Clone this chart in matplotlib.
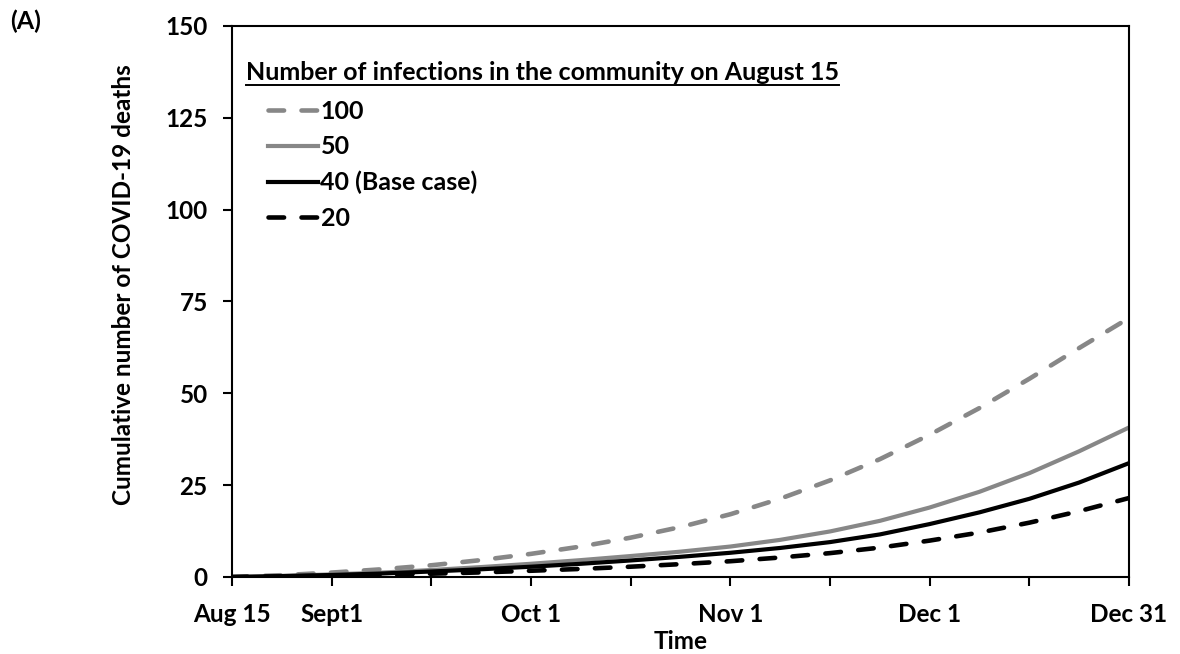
import numpy as np
import matplotlib
matplotlib.use("Agg")
import matplotlib.pyplot as plt
from matplotlib.lines import Line2D

plt.rcParams['font.family'] = ['Lato', 'DejaVu Sans']
plt.rcParams['font.weight'] = 'bold'

# Days since August 15 (tick and half-tick positions)
days = [0, 7.7, 15.3, 23.0, 30.7, 38.3, 46.0, 53.7, 61.3, 69.0, 76.7, 84.3, 92.0, 99.7, 107.3, 115.0, 122.7, 130.3, 138.0]

deaths_100 = [0, 0.5, 1.2, 2.1, 3.2, 4.6, 6.3, 8.3, 10.7, 13.6, 17.1, 21.3, 26.3, 32.1, 38.7, 46.0, 54.0, 62.3, 70.5]
deaths_50 = [0, 0.3, 0.7, 1.2, 1.9, 2.7, 3.6, 4.6, 5.7, 6.9, 8.3, 10.1, 12.4, 15.3, 18.9, 23.2, 28.3, 34.2, 40.7]
deaths_40 = [0, 0.25, 0.55, 0.95, 1.5, 2.1, 2.8, 3.6, 4.5, 5.5, 6.6, 7.9, 9.5, 11.6, 14.4, 17.6, 21.3, 25.7, 31.0]
deaths_20 = [0, 0.15, 0.35, 0.6, 0.9, 1.25, 1.7, 2.2, 2.8, 3.5, 4.3, 5.3, 6.5, 8.0, 9.9, 12.1, 14.8, 17.9, 21.5]

series_labels = ['100', '50', '40 (Base case)', '20']
x_tick_labels = ['Aug 15', 'Sept1', '', 'Oct 1', '', 'Nov 1', '', 'Dec 1', '', 'Dec 31']
y_ticks = [0, 25, 50, 75, 100, 125, 150]

W, H = 1180, 654
fig = plt.figure(figsize=(W / 100, H / 100), dpi=100)
ax = fig.add_axes([232 / W, 1 - 577 / H, (1129 - 232) / W, (577 - 26) / H])

grey = '#878787'
dash = (3.4, 3.8)
ax.plot(days, deaths_100, color=grey, lw=3.3, linestyle=(0, dash), dash_capstyle='round', label=series_labels[0])
ax.plot(days, deaths_50, color=grey, lw=3, label=series_labels[1])
ax.plot(days, deaths_40, color='black', lw=3, label=series_labels[2])
ax.plot(days, deaths_20, color='black', lw=3.3, linestyle=(0, dash), dash_capstyle='round', label=series_labels[3])

ax.set_xlim(0, 138)
ax.set_ylim(0, 150)
ax.set_xticks(np.linspace(0, 138, 10))
ax.set_xticklabels(x_tick_labels)
ax.set_yticks(y_ticks)
ax.tick_params(axis='both', direction='out', length=6.5, width=1.5, labelsize=17.5, colors='black')
ax.tick_params(axis='y', pad=11)
ax.tick_params(axis='x', pad=12)
for s in ax.spines.values():
    s.set_linewidth(1.5)

ax.set_xlabel('Time', fontsize=17.5, fontweight='bold', labelpad=3)
ax.set_ylabel('Cumulative number of COVID-19 deaths', fontsize=17.5, fontweight='bold')
ax.yaxis.set_label_coords(-0.108, 0.53)

# legend title, underlined
title = ax.text((246 - 232) / 897, (577 - 72) / 551, 'Number of infections in the community on August 15',
                transform=ax.transAxes, fontsize=18, fontweight='bold', va='center', ha='left')
fig.canvas.draw()
bb = title.get_window_extent().transformed(ax.transAxes.inverted())
ax.add_line(Line2D([bb.x0, bb.x1], [(577 - 85) / 551] * 2, transform=ax.transAxes, color='black', lw=1.4))

leg = ax.legend(loc='upper left', bbox_to_anchor=((268 - 232) / 897, (577 - 100) / 551), frameon=False,
                prop={'size': 18, 'weight': 'bold'}, handlelength=2.0, handletextpad=0.1,
                labelspacing=0.5, borderpad=0, borderaxespad=0)

fig.text(10 / W, 1 - 10 / H, '(A)', fontsize=18, fontweight='bold', va='top', ha='left')

fig.savefig('out.png', dpi=100)
